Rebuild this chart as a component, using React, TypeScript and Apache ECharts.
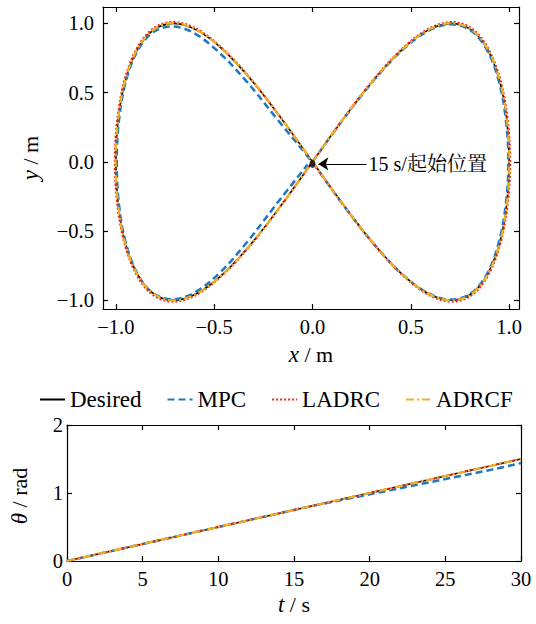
import React, { useEffect, useRef } from "react";
import * as echarts from "echarts";

// ---- Trajectory (x-y plane) ----
const desiredX = [0, 0.1564, 0.309, 0.454, 0.5878, 0.7071, 0.809, 0.891, 0.9511, 0.9877, 1, 0.9877, 0.9511, 0.891, 0.809, 0.7071, 0.5878, 0.454, 0.309, 0.1564, 0, -0.1564, -0.309, -0.454, -0.5878, -0.7071, -0.809, -0.891, -0.9511, -0.9877, -1, -0.9877, -0.9511, -0.891, -0.809, -0.7071, -0.5878, -0.454, -0.309, -0.1564, 0];
const desiredY = [0, 0.309, 0.5878, 0.809, 0.9511, 1, 0.9511, 0.809, 0.5878, 0.309, 0, -0.309, -0.5878, -0.809, -0.9511, -1, -0.9511, -0.809, -0.5878, -0.309, 0, 0.309, 0.5878, 0.809, 0.9511, 1, 0.9511, 0.809, 0.5878, 0.309, 0, -0.309, -0.5878, -0.809, -0.9511, -1, -0.9511, -0.809, -0.5878, -0.309, 0];

const mpcX = [0, 0.157, 0.31, 0.455, 0.588, 0.707, 0.808, 0.889, 0.947, 0.983, 0.996, 0.983, 0.947, 0.889, 0.808, 0.706, 0.586, 0.452, 0.307, 0.154, -0.003, -0.175, -0.33, -0.475, -0.603, -0.715, -0.812, -0.89, -0.948, -0.983, -0.995, -0.984, -0.95, -0.893, -0.815, -0.715, -0.6, -0.47, -0.33, -0.18, -0.025];
const mpcY = [0, 0.308, 0.585, 0.805, 0.945, 0.993, 0.945, 0.803, 0.584, 0.307, 0, -0.307, -0.584, -0.805, -0.947, -0.995, -0.947, -0.806, -0.585, -0.307, 0, 0.3, 0.572, 0.79, 0.93, 0.977, 0.935, 0.8, 0.585, 0.31, 0.003, -0.305, -0.58, -0.8, -0.945, -0.993, -0.945, -0.8, -0.575, -0.3, -0.02];

const ladrcX = [0, 0.157, 0.31, 0.456, 0.59, 0.71, 0.812, 0.894, 0.955, 0.992, 1.005, 0.992, 0.955, 0.894, 0.812, 0.71, 0.59, 0.456, 0.31, 0.157, 0, -0.157, -0.31, -0.456, -0.59, -0.71, -0.812, -0.894, -0.955, -0.992, -1.005, -0.992, -0.955, -0.894, -0.812, -0.71, -0.59, -0.456, -0.31, -0.157, 0];
const ladrcY = [0, 0.312, 0.594, 0.817, 0.961, 1.01, 0.961, 0.817, 0.594, 0.312, 0, -0.312, -0.594, -0.817, -0.961, -1.01, -0.961, -0.817, -0.594, -0.312, 0, 0.312, 0.594, 0.817, 0.961, 1.01, 0.961, 0.817, 0.594, 0.312, 0, -0.312, -0.594, -0.817, -0.961, -1.01, -0.961, -0.817, -0.594, -0.312, 0];

const adrcfX = [0, 0.156, 0.309, 0.455, 0.588, 0.708, 0.81, 0.892, 0.952, 0.988, 1.001, 0.988, 0.952, 0.892, 0.81, 0.708, 0.588, 0.455, 0.309, 0.156, 0, -0.156, -0.309, -0.455, -0.588, -0.708, -0.81, -0.892, -0.952, -0.988, -1.001, -0.988, -0.952, -0.892, -0.81, -0.708, -0.588, -0.455, -0.309, -0.156, 0];
const adrcfY = [0, 0.308, 0.587, 0.809, 0.952, 1.002, 0.952, 0.81, 0.589, 0.31, 0.001, -0.309, -0.588, -0.81, -0.953, -1.002, -0.952, -0.81, -0.588, -0.309, 0, 0.309, 0.588, 0.81, 0.952, 1.002, 0.952, 0.81, 0.588, 0.309, 0, -0.309, -0.588, -0.81, -0.952, -1.002, -0.952, -0.81, -0.588, -0.309, 0];

const startPoint = [0, -0.015];
const startLabel = "15 s/起始位置";

// ---- Heading angle vs time ----
const tDesired = [0, 5, 10, 15, 20, 25, 30];
const thetaDesired = [0, 0.25, 0.5, 0.75, 1.0, 1.25, 1.5];
const tMpc = [0, 5, 10, 15, 16, 18, 20, 22, 24, 26, 28, 30];
const thetaMpc = [0, 0.25, 0.5, 0.75, 0.8, 0.89, 0.98, 1.07, 1.16, 1.25, 1.34, 1.44];
const tLadrc = [0, 5, 10, 15, 20, 25, 30];
const thetaLadrc = [0, 0.25, 0.5, 0.75, 1.0, 1.25, 1.5];
const tAdrcf = [0, 5, 10, 15, 20, 25, 30];
const thetaAdrcf = [0, 0.25, 0.5, 0.75, 1.0, 1.25, 1.5];

const xyTicks = [-1, -0.5, 0, 0.5, 1];
const tTicks = [0, 5, 10, 15, 20, 25, 30];
const thetaTicks = [0, 1, 2];

const FONT = "Liberation Serif";
const C_DES = "#000000";
const C_MPC = "#1f77c4";
const C_LAD = "#ff1a1a";
const C_ADR = "#edb120";

const zip = (xs: number[], ys: number[]) => xs.map((x, i) => [x, ys[i]]);
const fmt1 = (v: number) => (v < 0 ? "\u2212" : "") + Math.abs(v).toFixed(1);

export default function App() {
  const ref = useRef<HTMLDivElement>(null);
  useEffect(() => {
    if (!ref.current) return;
    const chart = echarts.init(ref.current, null, { renderer: "svg" });
    const axisLine = { show: true, onZero: false, lineStyle: { color: "#000", width: 1.2 } };
    const tick = (vals: number[]) => ({ show: true, inside: true, length: 5, customValues: vals, lineStyle: { color: "#000", width: 1.2 } });
    const lbl = (vals: number[], f: (v: number) => string, margin: number) => ({
      show: true, customValues: vals, formatter: f, fontFamily: FONT, fontSize: 20.5, color: "#000", margin,
    });
    const noLbl = { show: false };
    const styles = [
      { name: "Desired", color: C_DES, width: 1.6, type: "solid" as any },
      { name: "MPC", color: C_MPC, width: 2.5, type: [7, 4] as any },
      { name: "LADRC", color: C_LAD, width: 2, type: [2, 2] as any },
      { name: "ADRCF", color: C_ADR, width: 2.3, type: [8, 3, 2, 3] as any },
    ];
    const xyData = [zip(desiredX, desiredY), zip(mpcX, mpcY), zip(ladrcX, ladrcY), zip(adrcfX, adrcfY)];
    const thData = [zip(tDesired, thetaDesired), zip(tMpc, thetaMpc), zip(tLadrc, thetaLadrc), zip(tAdrcf, thetaAdrcf)];
    const series: any[] = [];
    styles.forEach((s, i) => {
      series.push({
        name: s.name, type: "line", xAxisIndex: 0, yAxisIndex: 0, data: xyData[i], smooth: 0.35,
        showSymbol: false, symbol: "none", color: s.color, z: 2 + i,
        lineStyle: { color: s.color, width: s.width, type: s.type },
      });
    });
    styles.forEach((s, i) => {
      series.push({
        name: s.name, type: "line", xAxisIndex: 2, yAxisIndex: 2, data: thData[i],
        showSymbol: false, symbol: "none", color: s.color, z: 2 + i,
        lineStyle: { color: s.color, width: s.width, type: s.type },
      });
    });
    series.push({
      type: "scatter", xAxisIndex: 0, yAxisIndex: 0, data: [startPoint], symbol: "circle", symbolSize: [6, 8],
      itemStyle: { color: "#000" }, z: 10, silent: true,
      markLine: {
        silent: true, symbol: ["none", "arrow"], symbolSize: 10, animation: false,
        lineStyle: { color: "#000", width: 1.2, type: "solid" }, label: { show: false },
        data: [[{ coord: [0.275, startPoint[1]] }, { coord: [0.03, startPoint[1]] }]],
      },
    });

    chart.setOption({
      animation: false,
      backgroundColor: "#fff",
      grid: [
        { left: 103, top: 7, width: 416, height: 302 },
        { left: 67, top: 425, width: 454, height: 136 },
      ],
      xAxis: [
        { type: "value", gridIndex: 0, position: "bottom", min: -1.065, max: 1.05, axisLine, axisTick: tick(xyTicks), axisLabel: lbl(xyTicks, fmt1, 7), splitLine: { show: false } },
        { type: "value", gridIndex: 0, position: "top", min: -1.065, max: 1.05, axisLine, axisTick: tick(xyTicks), axisLabel: noLbl, splitLine: { show: false } },
        { type: "value", gridIndex: 1, position: "bottom", min: 0, max: 30, interval: 5, axisLine, axisTick: tick(tTicks), axisLabel: lbl(tTicks, (v: number) => String(v), 7), splitLine: { show: false } },
        { type: "value", gridIndex: 1, position: "top", min: 0, max: 30, interval: 5, axisLine, axisTick: tick(tTicks), axisLabel: noLbl, splitLine: { show: false } },
      ],
      yAxis: [
        { type: "value", gridIndex: 0, position: "left", min: -1.063, max: 1.118, axisLine, axisTick: tick(xyTicks), axisLabel: lbl(xyTicks, fmt1, 9), splitLine: { show: false } },
        { type: "value", gridIndex: 0, position: "right", min: -1.063, max: 1.118, axisLine, axisTick: tick(xyTicks), axisLabel: noLbl, splitLine: { show: false } },
        { type: "value", gridIndex: 1, position: "left", min: 0, max: 2, interval: 1, axisLine, axisTick: tick(thetaTicks), axisLabel: lbl(thetaTicks, (v: number) => String(v), 4), splitLine: { show: false } },
        { type: "value", gridIndex: 1, position: "right", min: 0, max: 2, interval: 1, axisLine, axisTick: tick(thetaTicks), axisLabel: noLbl, splitLine: { show: false } },
      ],
      legend: {
        data: ["Desired", "MPC", "LADRC", "ADRCF"], left: 34, top: 383, itemWidth: 25, itemHeight: 12, itemGap: 25,
        itemStyle: { opacity: 0 },
        textStyle: { fontFamily: FONT, fontSize: 23, color: "#000" }, selectedMode: false,
      },
      series,
    });

    const p = chart.convertToPixel({ xAxisIndex: 0, yAxisIndex: 0 }, [0.275, startPoint[1]]) as number[];
    const titleStyle = (text: string) => ({
      text, fontFamily: FONT, fontSize: 22, fill: "#000", align: "center", verticalAlign: "middle",
      rich: { i: { fontFamily: FONT, fontSize: 23, fontStyle: "italic", fill: "#000" } },
    });
    chart.setOption({
      graphic: [
        { type: "text", x: 311, y: 354, style: titleStyle("{i|x} / m") },
        { type: "text", x: 30, y: 158, rotation: Math.PI / 2, style: titleStyle("{i|y} / m") },
        { type: "text", x: 294, y: 604, style: titleStyle("{i|t} / s") },
        { type: "text", x: 19, y: 496, rotation: Math.PI / 2, style: titleStyle("{i|θ} / rad") },
        {
          type: "text", x: p[0] + 2, y: p[1],
          style: { text: startLabel, fontFamily: "Liberation Serif, Noto Serif CJK SC, Noto Sans CJK SC", fontSize: 20, fill: "#000", align: "left", verticalAlign: "middle" },
        },
      ],
    });
    return () => chart.dispose();
  }, []);
  return <div ref={ref} style={{ width: 536, height: 624, position: "absolute", left: 0, top: 0 }} />;
}
